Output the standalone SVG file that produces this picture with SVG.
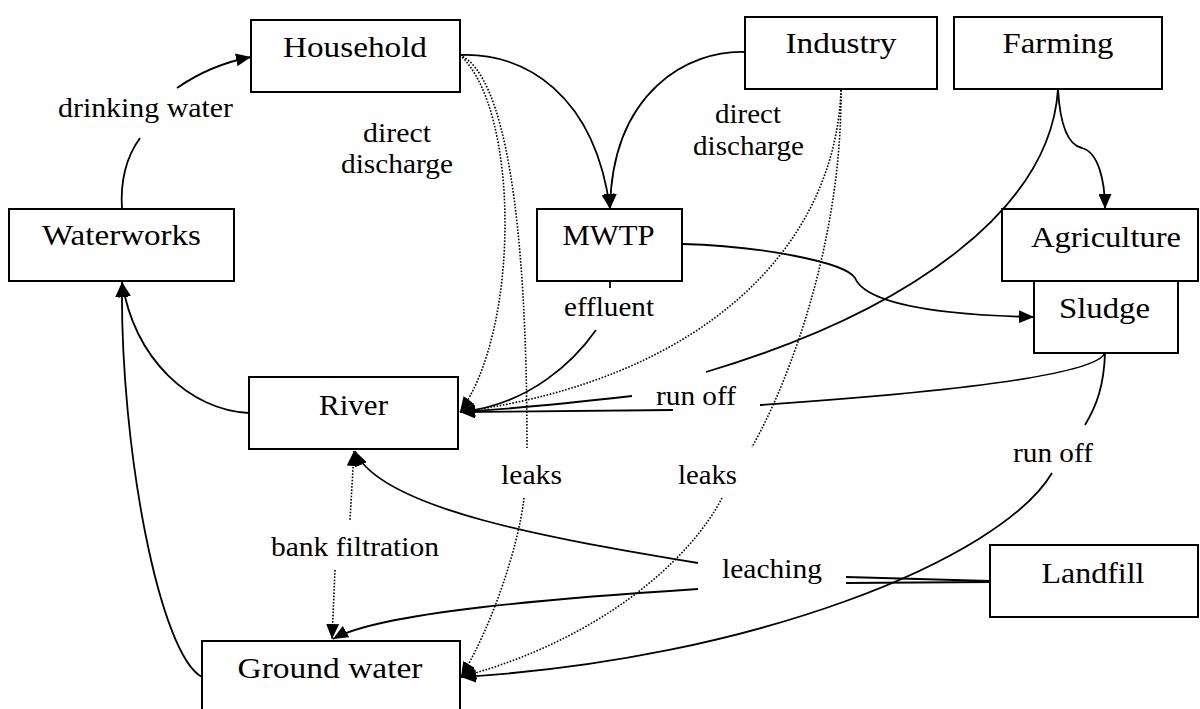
<svg xmlns="http://www.w3.org/2000/svg" width="1200" height="709" viewBox="0 0 1200 709" font-family="Liberation Serif, DejaVu Serif, serif">
<style>
.box{fill:#fff;stroke:#000;stroke-width:2}
.nt{font-size:30px;text-anchor:middle;fill:#000}
.lbl{font-size:27px;text-anchor:middle;fill:#000}
.e{fill:none;stroke:#000;stroke-width:1.8}
.d{fill:none;stroke:#000;stroke-width:1.6;stroke-dasharray:1.6 1.6}
</style>
<defs>
<marker id="arr" viewBox="0 0 15 13" refX="15" refY="6.5" markerWidth="15" markerHeight="13" markerUnits="userSpaceOnUse" orient="auto-start-reverse"><path d="M0,0 L15,6.5 L0,13 z" fill="#000"/></marker>
</defs>
<rect x="0" y="0" width="1200" height="709" fill="#fff"/>
<g id="household"><rect class="box" x="251" y="20" width="209" height="72"/><text class="nt" x="355" y="57" textLength="144" lengthAdjust="spacingAndGlyphs" font-family="Liberation Serif, DejaVu Serif, serif">Household</text></g>
<g id="industry"><rect class="box" x="745" y="17" width="192" height="72"/><text class="nt" x="841" y="53" textLength="111" lengthAdjust="spacingAndGlyphs">Industry</text></g>
<g id="farming"><rect class="box" x="954" y="17" width="208" height="72"/><text class="nt" x="1058" y="53" textLength="111" lengthAdjust="spacingAndGlyphs">Farming</text></g>
<g id="waterworks"><rect class="box" x="9" y="209" width="225" height="72"/><text class="nt" x="121.5" y="245" textLength="159" lengthAdjust="spacingAndGlyphs">Waterworks</text></g>
<g id="mwtp"><rect class="box" x="537" y="209" width="145" height="72"/><text class="nt" x="608.5" y="245" textLength="92" lengthAdjust="spacingAndGlyphs">MWTP</text></g>
<g id="agriculture"><rect class="box" x="1002" y="209" width="196" height="72"/><text class="nt" x="1106" y="247" textLength="150" lengthAdjust="spacingAndGlyphs">Agriculture</text></g>
<g id="sludge"><rect class="box" x="1034" y="281" width="144" height="72"/><text class="nt" x="1104.5" y="318" textLength="91" lengthAdjust="spacingAndGlyphs">Sludge</text></g>
<g id="river"><rect class="box" x="249" y="377" width="209" height="72"/><text class="nt" x="353.5" y="415" textLength="69" lengthAdjust="spacingAndGlyphs">River</text></g>
<g id="groundwater"><rect class="box" x="202" y="641" width="258" height="75"/><text class="nt" x="330" y="678" textLength="185" lengthAdjust="spacingAndGlyphs">Ground water</text></g>
<g id="landfill"><rect class="box" x="990" y="545" width="208" height="72"/><text class="nt" x="1093" y="583" textLength="103" lengthAdjust="spacingAndGlyphs">Landfill</text></g>
<g id="connectors">
<path class="e" d="M122,209 C120,178 127,156 140,138 M177,88 C200,72 225,62 251,57" marker-end="url(#arr)"/>
<path class="e" d="M460,55 C525,52 595,95 610,209" marker-end="url(#arr)"/>
<path class="e" d="M745,52 C690,50 612,90 610,209" marker-end="url(#arr)"/>
<path class="e" d="M1058,89 C1060,125 1068,145 1082,148 C1098,152 1105,180 1105,209" marker-end="url(#arr)"/>
<path class="e" d="M682,244 C760,246 845,262 855,278 C862,295 900,314 1034,317" marker-end="url(#arr)"/>
<path class="e" d="M610,281 L610,288 M596,330 C575,360 530,405 460,412" marker-end="url(#arr)"/>
<path class="e" d="M1058,89 C1050.6,207.9 912.9,310.2 706,372 M632,396 C570,403 510,409 460,412" marker-end="url(#arr)"/>
<path class="e" d="M1105,353 C1095,375 950,392 760,405 M673,410 L460,412" marker-end="url(#arr)"/>
<path class="e" d="M1105,353 C1104,385 1097,405 1085,425 M1052,473 C1000,560 750,660 461,677" marker-end="url(#arr)"/>
<path class="e" d="M249,413 C190,410 135,360 122,282" marker-end="url(#arr)"/>
<path class="e" d="M202,677 C160,655 120,450 122,282" marker-end="url(#arr)"/>
<path class="e" d="M990,581 L846,577 M698,563 C560,540 380,510 355,451" marker-end="url(#arr)"/>
<path class="e" d="M990,582 L846,583 M698,589 C560,598 380,612 333,639" marker-end="url(#arr)"/>
<path class="d" d="M354,451 L350,520 M335,570 L332,639" marker-start="url(#arr)" marker-end="url(#arr)"/>
<path class="d" d="M460,55 C520,110 520,330 460,412" marker-end="url(#arr)"/>
<path class="d" d="M460,55 C505,75 527,220 527,448 M524,498 C518,550 490,630 461,677" marker-end="url(#arr)"/>
<path class="d" d="M841,90 C835,250 700,380 460,412" marker-end="url(#arr)"/>
<path class="d" d="M841,90 C842,240 790,380 752,447 M722,498 C690,560 600,640 461,677" marker-end="url(#arr)"/>
<text class="lbl" x="145.5" y="116.5" textLength="175" lengthAdjust="spacingAndGlyphs">drinking water</text>
<text class="lbl" x="397" y="141.5" textLength="68" lengthAdjust="spacingAndGlyphs">direct</text>
<text class="lbl" x="397" y="173" textLength="112" lengthAdjust="spacingAndGlyphs">discharge</text>
<text class="lbl" x="748" y="123" textLength="66" lengthAdjust="spacingAndGlyphs">direct</text>
<text class="lbl" x="748.5" y="155" textLength="111" lengthAdjust="spacingAndGlyphs">discharge</text>
<text class="lbl" x="609" y="316" textLength="90" lengthAdjust="spacingAndGlyphs">effluent</text>
<text class="lbl" x="696" y="405" textLength="80" lengthAdjust="spacingAndGlyphs">run off</text>
<text class="lbl" x="1053" y="462" textLength="80" lengthAdjust="spacingAndGlyphs">run off</text>
<text class="lbl" x="531.5" y="484" textLength="61" lengthAdjust="spacingAndGlyphs">leaks</text>
<text class="lbl" x="707.5" y="484" textLength="59" lengthAdjust="spacingAndGlyphs">leaks</text>
<text class="lbl" x="355" y="556" textLength="168" lengthAdjust="spacingAndGlyphs">bank filtration</text>
<text class="lbl" x="772" y="578" textLength="100" lengthAdjust="spacingAndGlyphs">leaching</text>
</g>
</svg>
